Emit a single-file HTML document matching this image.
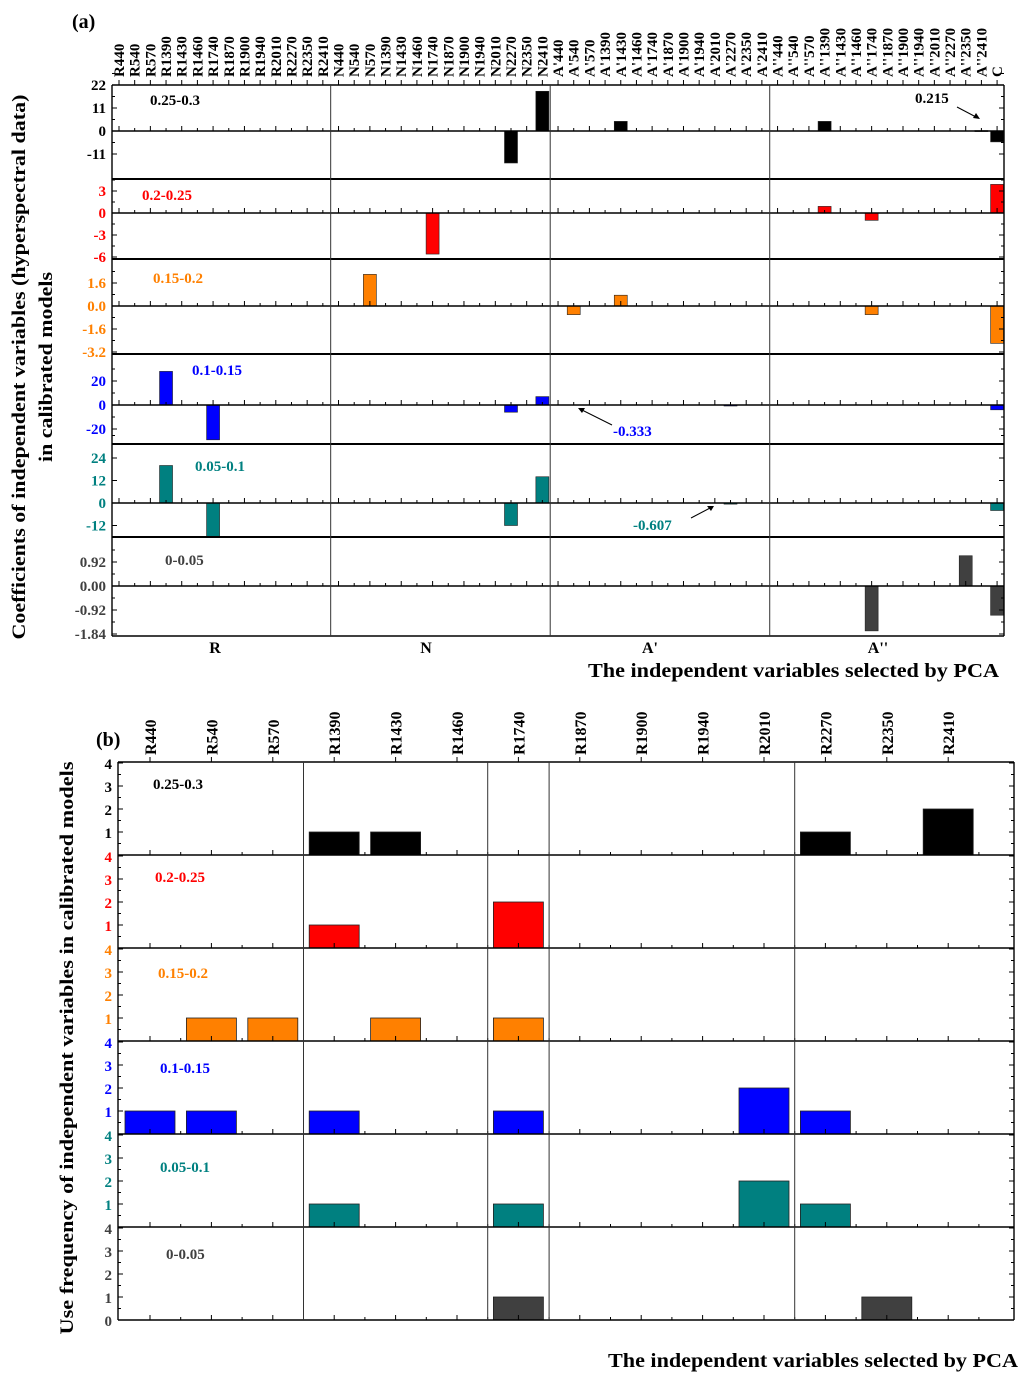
<!DOCTYPE html>
<html><head><meta charset="utf-8"><style>
html,body{margin:0;padding:0;background:#fff}
svg{display:block;font-family:"Liberation Serif",serif;font-weight:bold}
</style></head><body>
<svg id="fig" width="1024" height="1379" viewBox="0 0 1024 1379" xmlns="http://www.w3.org/2000/svg">
<rect x="0" y="0" width="1024" height="1379" fill="#fff"/>
<text x="72" y="28" font-size="20">(a)</text>
<text x="96" y="746" font-size="20">(b)</text>
<text transform="translate(25,367) rotate(-90)" text-anchor="middle" font-size="19" textLength="545" lengthAdjust="spacingAndGlyphs">Coefficients of independent variables (hyperspectral data)</text>
<text transform="translate(52,367) rotate(-90)" text-anchor="middle" font-size="19" textLength="190" lengthAdjust="spacingAndGlyphs">in calibrated models</text>
<text transform="translate(73,1048) rotate(-90)" text-anchor="middle" font-size="19" textLength="573" lengthAdjust="spacingAndGlyphs">Use frequency of independent variables in calibrated models</text>
<text x="999" y="677" text-anchor="end" font-size="20" textLength="411" lengthAdjust="spacingAndGlyphs">The independent variables selected by PCA</text>
<text x="1018" y="1367" text-anchor="end" font-size="20" textLength="410" lengthAdjust="spacingAndGlyphs">The independent variables selected by PCA</text>
<g id="ga"></g><g id="gb"></g>
</svg>
<script>
const NS='http://www.w3.org/2000/svg';
function mk(parent,tag,attrs,txt){const e=document.createElementNS(NS,tag);for(const k in attrs)e.setAttribute(k,attrs[k]);if(txt!==undefined)e.textContent=txt;parent.appendChild(e);return e;}
const wl=['440','540','570','1390','1430','1460','1740','1870','1900','1940','2010','2270','2350','2410'];
// Panel (a) categories
const aCats=[].concat(wl.map(w=>'R'+w),wl.map(w=>'N'+w),wl.map(w=>"A'"+w),wl.map(w=>"A''"+w),['C']);
// Panel (a) series
const a1Cats=['N2270','N2410',"A'1430","A''1390","A''2410",'C'];
const a1Vals=[-15.3,19,4.6,4.6,0.215,-5.2];
const a2Cats=['N1740',"A''1390","A''1740",'C'];
const a2Vals=[-5.6,0.9,-1.0,3.9];
const a3Cats=['N570',"A'540","A'1430","A''1740",'C'];
const a3Vals=[2.2,-0.6,0.75,-0.6,-2.6];
const a4Cats=['R1390','R1740','N2270','N2410',"A'2270",'C'];
const a4Vals=[28,-29,-6,7,-0.333,-4];
const a5Cats=['R1390','R1740','N2270','N2410',"A'2270",'C'];
const a5Vals=[20,-18,-12,14,-0.607,-4];
const a6Cats=["A''1740","A''2350",'C'];
const a6Vals=[-1.72,1.16,-1.12];
const a1Ticks=[22,11,0,-11];
const a2Ticks=[3,0,-3,-6];
const a3Ticks=[1.6,0,-1.6,-3.2];
const a4Ticks=[20,0,-20];
const a5Ticks=[24,12,0,-12];
const a6Ticks=[0.92,0,-0.92,-1.84];
const aTickFmt=[0,0,1,0,0,2];
const aLegend=['0.25-0.3','0.2-0.25','0.15-0.2','0.1-0.15','0.05-0.1','0-0.05'];
const groupLabels=['R','N',"A'","A''"];
// Panel (b)
const bCats=wl.map(w=>'R'+w);
const b1Cats=['R1390','R1430','R2270','R2410'];const b1Vals=[1,1,1,2];
const b2Cats=['R1390','R1740'];const b2Vals=[1,2];
const b3Cats=['R540','R570','R1430','R1740'];const b3Vals=[1,1,1,1];
const b4Cats=['R440','R540','R1390','R1740','R2010','R2270'];const b4Vals=[1,1,1,1,2,1];
const b5Cats=['R1390','R1740','R2010','R2270'];const b5Vals=[1,1,2,1];
const b6Cats=['R1740','R2350'];const b6Vals=[1,1];
const bTicks=[0,1,2,3,4];

const colors=['#000000','#ff0000','#ff8000','#0000ff','#008080','#404040'];
const ga=document.getElementById('ga'),gb=document.getElementById('gb');
// ----- panel a layout -----
const AL=112,AR=1004,AX0=119,ADX=15.68,BW=13;
const aLay=[{t:85,b:179,z:131,tv:11,ty:108},{t:179,b:259,z:213,tv:3,ty:191},{t:259,b:354,z:306,tv:1.6,ty:283},{t:354,b:444,z:405,tv:20,ty:381},{t:444,b:537,z:503,tv:24,ty:458},{t:537,b:636,z:586,tv:0.92,ty:562}];
const aSeriesC=[a1Cats,a2Cats,a3Cats,a4Cats,a5Cats,a6Cats],aSeriesV=[a1Vals,a2Vals,a3Vals,a4Vals,a5Vals,a6Vals],aTicksAll=[a1Ticks,a2Ticks,a3Ticks,a4Ticks,a5Ticks,a6Ticks];
const ax=i=>AX0+i*ADX;
const legPos=[[150,105],[142,200],[153,283],[192,375],[195,471],[165,565]];
aLay.forEach((L,p)=>{
  const sc=(L.z-L.ty)/L.tv; const y=v=>L.z-v*sc;
  const g=mk(ga,'g',{});
  
  
  aSeriesC[p].forEach((c,k)=>{
    const i=aCats.indexOf(c),v=aSeriesV[p][k];
    const y0=y(Math.max(v,0)),h=Math.max(Math.abs(v)*sc,1);
    const r=mk(g,'rect',{x:ax(i)-BW/2,y:y0,width:BW,height:h,fill:colors[p],stroke:'#222','stroke-width':0.6});
    
    
  });
  mk(g,'line',{x1:AL,x2:AR,y1:L.z,y2:L.z,stroke:'#000','stroke-width':1.4});
  aCats.forEach((c,i)=>{mk(g,'line',{x1:ax(i),x2:ax(i),y1:L.z,y2:L.z-(i%2?3:5),stroke:'#000','stroke-width':1});});
  aTicksAll[p].forEach(v=>{
    const t=mk(g,'text',{x:106,y:y(v)+5,'text-anchor':'end','font-size':15,fill:colors[p]},v.toFixed(aTickFmt[p]));
    
    
    mk(g,'line',{x1:AL,x2:AL+5,y1:y(v),y2:y(v),stroke:'#000'});
    mk(g,'line',{x1:AR,x2:AR-5,y1:y(v),y2:y(v),stroke:'#000'});
    mk(g,'line',{x1:AL,x2:AL+3,y1:y(v)-sc*L.tv/2,y2:y(v)-sc*L.tv/2,stroke:'#000'});
    mk(g,'line',{x1:AR,x2:AR-3,y1:y(v)-sc*L.tv/2,y2:y(v)-sc*L.tv/2,stroke:'#000'});
  });
  mk(g,'line',{x1:AL,x2:AR,y1:L.b,y2:L.b,stroke:'#000','stroke-width':p==5?1.4:2});
  const lg=mk(g,'text',{x:legPos[p][0],y:legPos[p][1],'font-size':15,fill:colors[p]},aLegend[p]);
  
  
});
mk(ga,'line',{x1:AL,x2:AR,y1:85,y2:85,stroke:'#000','stroke-width':1.4});
mk(ga,'line',{x1:AL,x2:AL,y1:85,y2:636,stroke:'#000','stroke-width':1.4});
mk(ga,'line',{x1:AR,x2:AR,y1:85,y2:636,stroke:'#000','stroke-width':1.4});
[14,28,42].forEach(i=>{const x=(ax(i-1)+ax(i))/2;mk(ga,'line',{x1:x,x2:x,y1:85,y2:636,stroke:'#333','stroke-width':1});});
aCats.forEach((c,i)=>{
  mk(ga,'line',{x1:ax(i),x2:ax(i),y1:85,y2:80,stroke:'#000'});
  const t=mk(ga,'text',{transform:'translate('+(ax(i)+5)+',77) rotate(-90)','font-size':15},c);
  
  
});
const groupX=[215,426,650,878];
groupLabels.forEach((gl,k)=>{
  const t=mk(ga,'text',{x:groupX[k],y:653,'text-anchor':'middle','font-size':16},gl);
  
  
});
// annotations
mk(ga,'text',{x:915,y:103,'font-size':15},'0.215');
mk(ga,'line',{x1:957,y1:107,x2:976,y2:117,stroke:'#000'});
mk(ga,'path',{d:'M980,119 l-7,-1 l3,-5 z',fill:'#000'});
mk(ga,'text',{x:613,y:436,'font-size':15,fill:'#0000ff'},'-0.333');
mk(ga,'line',{x1:612,y1:425,x2:582,y2:410,stroke:'#000'});
mk(ga,'path',{d:'M578,408 l7,0 l-3,5 z',fill:'#000'});
mk(ga,'text',{x:633,y:530,'font-size':15,fill:'#008080'},'-0.607');
mk(ga,'line',{x1:691,y1:518,x2:710,y2:508,stroke:'#000'});
mk(ga,'path',{d:'M714,506 l-3,5 l-4,-5 z',fill:'#000'});
// ----- panel b -----
const BL=118,BR=1014,BX0=150,BDX=61.4,BBW=50,BT=762,BH=93,BU=23;
const bx=i=>BX0+i*BDX;
const bSeriesC=[b1Cats,b2Cats,b3Cats,b4Cats,b5Cats,b6Cats],bSeriesV=[b1Vals,b2Vals,b3Vals,b4Vals,b5Vals,b6Vals];
const bLegPos=[[153,789],[155,882],[158,978],[160,1073],[160,1172],[166,1259]];
for(let p=0;p<6;p++){
  const base=BT+(p+1)*BH; const y=v=>base-v*BU;
  const g=mk(gb,'g',{});
  
  
  bSeriesC[p].forEach((c,k)=>{
    const i=bCats.indexOf(c),v=bSeriesV[p][k];
    const r=mk(g,'rect',{x:bx(i)-BBW/2,y:y(v),width:BBW,height:v*BU,fill:colors[p],stroke:'#222','stroke-width':0.8});
    
    
  });
  mk(g,'line',{x1:BL,x2:BR,y1:base,y2:base,stroke:'#000','stroke-width':1.4});
  bCats.forEach((c,i)=>{mk(g,'line',{x1:bx(i),x2:bx(i),y1:base,y2:base-5,stroke:'#000'});mk(g,'line',{x1:bx(i)+BDX/2,x2:bx(i)+BDX/2,y1:base,y2:base-3,stroke:'#000'});});
  bTicks.forEach(v=>{
    if(v===0&&p<5)return;
    const t=mk(g,'text',{x:112,y:y(v)+6,'text-anchor':'end','font-size':15,fill:colors[p]},String(v));
    
    
    mk(g,'line',{x1:BL,x2:BL+5,y1:y(v),y2:y(v),stroke:'#000'});
    mk(g,'line',{x1:BR,x2:BR-5,y1:y(v),y2:y(v),stroke:'#000'});
    if(v>0){
      mk(g,'line',{x1:BL,x2:BL+3,y1:y(v)+BU/2,y2:y(v)+BU/2,stroke:'#000'});
      mk(g,'line',{x1:BR,x2:BR-3,y1:y(v)+BU/2,y2:y(v)+BU/2,stroke:'#000'});
    }
  });
  const lg=mk(g,'text',{x:bLegPos[p][0],y:bLegPos[p][1],'font-size':15,fill:colors[p]},aLegend[p]);
  
  
}
mk(gb,'line',{x1:BL,x2:BR,y1:BT,y2:BT,stroke:'#000','stroke-width':1.4});
mk(gb,'line',{x1:BL,x2:BL,y1:BT,y2:BT+6*BH,stroke:'#000','stroke-width':1.4});
mk(gb,'line',{x1:BR,x2:BR,y1:BT,y2:BT+6*BH,stroke:'#000','stroke-width':1.4});
[3,6,7,11].forEach(i=>{const x=(bx(i-1)+bx(i))/2;mk(gb,'line',{x1:x,x2:x,y1:BT,y2:BT+6*BH,stroke:'#333','stroke-width':1});});
bCats.forEach((c,i)=>{
  mk(gb,'line',{x1:bx(i),x2:bx(i),y1:BT,y2:BT-5,stroke:'#000'});
  const t=mk(gb,'text',{transform:'translate('+(bx(i)+6)+',755) rotate(-90)','font-size':16},c);
  
  
});
</script>
</body></html>
